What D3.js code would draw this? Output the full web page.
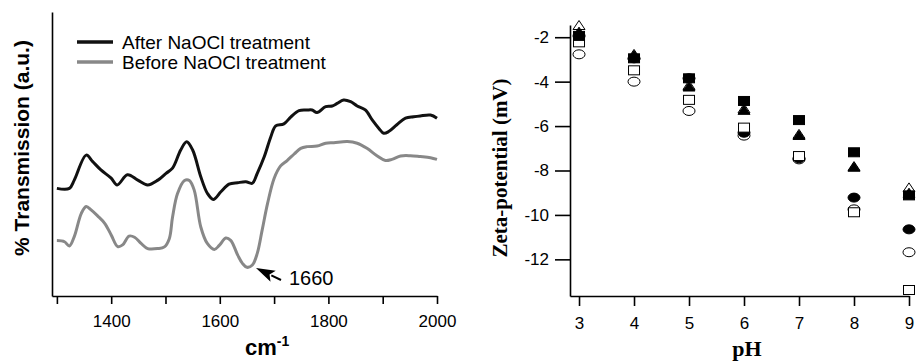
<!DOCTYPE html>
<html lang="en">
<head>
  <meta charset="UTF-8">
  <title>FTIR and zeta potential</title>
  <style>
    body { margin: 0; background: #fff; }
    .axis path, .axis line { fill: none; stroke: #000; stroke-width: 1.6px; }
    .axis text { font-family: "Liberation Sans", Arial, sans-serif; font-size: 17px; fill: #000; }
  </style>
</head>
<body>
<div class="chart"></div>
<script src="https://cdn.jsdelivr.net/npm/d3@7"></script>
<script>
  // left panel: FTIR spectra (arbitrary transmission units)
  let afterWave = [1300, 1323, 1332, 1354, 1366, 1381, 1400, 1411, 1430, 1449, 1467, 1486, 1501, 1513, 1528, 1539, 1550, 1565, 1577, 1588, 1602, 1617, 1633, 1648, 1660, 1669, 1682, 1694, 1703, 1718, 1731, 1746, 1761, 1770, 1779, 1795, 1807, 1816, 1828, 1841, 1853, 1868, 1881, 1893, 1902, 1911, 1926, 1942, 1957, 1969, 1988, 2000]
  let afterVal = [37.9, 37.9, 40.8, 49.6, 47.3, 44.4, 41.5, 39.1, 42.7, 40.8, 39.1, 40.8, 43.2, 45.0, 51.4, 54.3, 51.4, 42.0, 36.2, 34.0, 36.7, 39.4, 39.9, 40.2, 39.7, 43.2, 49.1, 56.1, 59.9, 60.6, 63.1, 65.3, 65.5, 65.5, 64.6, 66.7, 66.9, 67.8, 69.0, 68.4, 66.9, 65.5, 61.9, 59.0, 57.3, 57.9, 60.3, 62.6, 63.1, 63.4, 63.7, 62.6]
  let beforeWave = [1300, 1314, 1323, 1332, 1345, 1354, 1363, 1375, 1388, 1400, 1412, 1421, 1433, 1443, 1455, 1467, 1486, 1498, 1507, 1513, 1522, 1535, 1544, 1553, 1565, 1577, 1590, 1599, 1611, 1620, 1633, 1642, 1650, 1660, 1669, 1678, 1688, 1700, 1712, 1724, 1737, 1749, 1761, 1779, 1795, 1810, 1835, 1853, 1871, 1890, 1905, 1917, 1933, 1951, 1969, 1988, 2000]
  let beforeVal = [19.5, 19.1, 17.6, 20.9, 29.1, 31.5, 30.3, 28.2, 25.6, 21.5, 17.4, 18.0, 21.1, 20.7, 18.5, 16.7, 16.7, 17.3, 20.2, 27.8, 36.0, 40.7, 40.7, 37.2, 24.3, 18.5, 16.4, 17.8, 20.4, 19.6, 14.4, 11.4, 10.1, 10.9, 15.0, 23.2, 32.6, 41.4, 45.8, 47.7, 50.0, 52.0, 52.6, 52.8, 53.8, 54.0, 54.4, 53.8, 52.0, 49.3, 47.7, 48.1, 49.3, 49.4, 49.1, 48.7, 48.1]
  let waveTicks = [1300, 1400, 1500, 1600, 1700, 1800, 1900, 2000]
  let waveLabels = [1400, 1600, 1800, 2000]
  let legendNames = ['After NaOCl treatment', 'Before NaOCl treatment']

  // right panel: zeta potential (mV) vs pH
  let pH = [3, 4, 5, 6, 7, 8, 9]
  let openCircle = [-2.77, -4.0, -5.32, -6.43, -7.5, -9.75, -11.68]
  let filledCircle = [-1.94, -2.95, -3.85, -6.3, -7.45, -9.22, -10.65]
  let openSquare = [-2.23, -3.49, -4.82, -6.07, -7.35, -9.88, -13.38]
  let openTriangle = [-1.45, -2.75, -4.15, -5.2, -6.35, -7.8, -8.76]
  let filledTriangle = [-1.75, -2.8, -4.22, -5.27, -6.4, -7.83, -9.0]
  let filledSquare = [-1.94, -2.95, -3.85, -4.87, -5.73, -7.18, -9.12]
  let zetaTicks = [-2, -4, -6, -8, -10, -12]

  let width = 917
  let height = 363
  let svg = d3.select('.chart').append('svg').attr('width', width).attr('height', height)

  drawSpectra()
  drawZeta()

  function drawSpectra () {
    let x = d3.scaleLinear().domain([1291, 2000]).range([52, 437])
    let y = d3.scaleLinear().domain([0, 100]).range([296, 12])

    let gx = svg.append('g').attr('class', 'axis')
      .attr('transform', 'translate(0,296)')
      .call(d3.axisBottom(x).tickValues(waveTicks).tickSize(8).tickSizeOuter(0)
        .tickFormat(d => waveLabels.includes(d) ? d : ''))
    gx.selectAll('text').attr('dy', '1.2em')

    svg.append('g').attr('class', 'axis')
      .attr('transform', 'translate(52,0)')
      .call(d3.axisLeft(y).tickValues([]).tickSizeOuter(0))

    let line = d3.line().curve(d3.curveCatmullRom)
      .x(d => x(d[0])).y(d => y(d[1]))

    svg.append('path').datum(beforeWave.map((w, i) => [w, beforeVal[i]]))
      .attr('d', line).attr('fill', 'none').attr('stroke', '#888').attr('stroke-width', 3)
    svg.append('path').datum(afterWave.map((w, i) => [w, afterVal[i]]))
      .attr('d', line).attr('fill', 'none').attr('stroke', '#111').attr('stroke-width', 3)

    // legend
    let colors = ['#111', '#888']
    legendNames.forEach((name, i) => {
      let ly = 42 + i * 20
      svg.append('line').attr('x1', 77).attr('x2', 113).attr('y1', ly).attr('y2', ly)
        .attr('stroke', colors[i]).attr('stroke-width', 3.5)
      svg.append('text').attr('x', 122).attr('y', ly + 7).text(name)
        .style('font-family', '"Liberation Sans", Arial, sans-serif').style('font-size', '19px')
    })

    // 1660 annotation: arrow with a big filled head
    let tip = [256, 268]
    let tail = [281, 280]
    let dx = tail[0] - tip[0]
    let dy = tail[1] - tip[1]
    let len = Math.sqrt(dx * dx + dy * dy)
    let ux = dx / len
    let uy = dy / len
    let hl = 19
    let hw = 6
    let bx = tip[0] + ux * hl
    let by = tip[1] + uy * hl
    svg.append('line').attr('x1', bx - ux * 2).attr('y1', by - uy * 2).attr('x2', tail[0]).attr('y2', tail[1])
      .attr('stroke', '#000').attr('stroke-width', 2)
    svg.append('path')
      .attr('d', 'M' + tip + 'L' + [bx - uy * hw, by + ux * hw] + 'L' + [bx - ux * 4, by - uy * 4] + 'L' + [bx + uy * hw, by - ux * hw] + 'Z')
      .attr('fill', '#000')
    svg.append('text').attr('x', 289).attr('y', 285).text('1660')
      .style('font-family', '"Liberation Sans", Arial, sans-serif').style('font-size', '20px')

    let cm = svg.append('text').attr('x', 245).attr('y', 355)
      .style('font-family', '"Liberation Sans", Arial, sans-serif').style('font-weight', 'bold').style('font-size', '22px')
    cm.append('tspan').text('cm')
    cm.append('tspan').text('-1').attr('dy', -9).style('font-size', '14px')

    svg.append('text').attr('transform', 'translate(29,148) rotate(-90)')
      .attr('text-anchor', 'middle').text('% Transmission (a.u.)')
      .style('font-family', '"Liberation Sans", Arial, sans-serif').style('font-weight', 'bold').style('font-size', '21px')
  }

  function drawZeta () {
    let x = d3.scaleLinear().domain([2.836, 9]).range([570, 909])
    let y = d3.scaleLinear().domain([-13.65, -1.45]).range([296, 25])

    let gx = svg.append('g').attr('class', 'axis')
      .attr('transform', 'translate(0,296)')
      .call(d3.axisBottom(x).tickValues(pH).tickSize(10).tickSizeOuter(0).tickFormat(d3.format('d')))
    gx.selectAll('text').attr('dy', '1.15em')

    let gy = svg.append('g').attr('class', 'axis')
      .attr('transform', 'translate(570,0)')
      .call(d3.axisLeft(y).tickValues(zetaTicks).tickSize(15).tickSizeOuter(0).tickFormat(d => d))
    gy.selectAll('text').attr('x', -21)

    let tri = 'M0,-4.5L6,4.5L-6,4.5Z'
    let series = [
      { v: openCircle, shape: 'circle', fill: '#fff' },
      { v: filledCircle, shape: 'circle', fill: '#000' },
      { v: openSquare, shape: 'square', fill: '#fff' },
      { v: openTriangle, shape: 'triangle', fill: '#fff' },
      { v: filledTriangle, shape: 'triangle', fill: '#000' },
      { v: filledSquare, shape: 'square', fill: '#000' }
    ]
    series.forEach(s => {
      let g = svg.append('g')
      let pts = g.selectAll('.pt').data(s.v).enter()
      let mark
      if (s.shape === 'circle') {
        mark = pts.append('ellipse').attr('rx', 6).attr('ry', 4.5)
          .attr('cx', (d, i) => x(pH[i])).attr('cy', d => y(d))
      } else if (s.shape === 'square') {
        mark = pts.append('rect').attr('width', 11).attr('height', 9)
          .attr('x', (d, i) => x(pH[i]) - 5.5).attr('y', d => y(d) - 4.5)
      } else {
        mark = pts.append('path').attr('d', tri)
          .attr('transform', (d, i) => 'translate(' + x(pH[i]) + ',' + y(d) + ')')
      }
      mark.attr('fill', s.fill).attr('stroke', '#000').attr('stroke-width', 1)
    })

    svg.append('text').attr('x', 747).attr('y', 356).attr('text-anchor', 'middle').text('pH')
      .style('font-family', '"Liberation Serif", "Times New Roman", serif').style('font-weight', 'bold').style('font-size', '22px')
    svg.append('text').attr('transform', 'translate(507,168) rotate(-90)')
      .attr('text-anchor', 'middle').text('Zeta-potential (mV)')
      .style('font-family', '"Liberation Serif", "Times New Roman", serif').style('font-weight', 'bold').style('font-size', '21px')
  }
</script>
</body>
</html>
